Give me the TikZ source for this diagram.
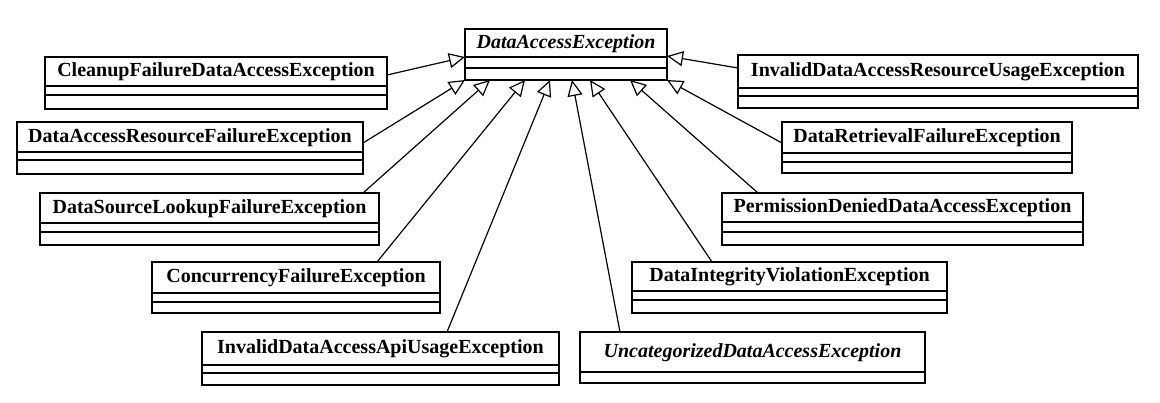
\documentclass[tikz,border=0pt]{standalone}
\usepackage{fontspec}
\setmainfont{Liberation Serif}
\usetikzlibrary{arrows.meta}
\tikzset{
  classbox/.style={draw, line width=1.8pt, inner sep=0pt, outer sep=0pt, anchor=north west},
  classname/.style={font=\bfseries\fontsize{20}{22}\selectfont, inner sep=0pt},
  abstractname/.style={font=\bfseries\itshape\fontsize{20}{22}\selectfont, inner sep=0pt},
  compart/.style={line width=1.5pt},
  inherits/.style={-{Triangle[open,length=16pt,width=15pt,line width=1.2pt]}, line width=1.2pt}
}
\newcommand\umlclass[9]{%
  \node[classbox, minimum width={(#4-#2)*1pt}, minimum height={(#5-#3)*1pt}] (#1) at (#2,#3) {};
  \node[#8] (#1-name) at ({(#2+#4)/2},{(#3+#6)/2+0.5}) {#9};
  \draw[compart] (#2,#6) -- (#4,#6);
  \ifx\relax#7\relax\else\draw[compart] (#2,#7) -- (#4,#7);\fi
}
\begin{document}
\begin{tikzpicture}[x=1pt,y=-1pt]
\fill[white] (0,0) rectangle (1160,402);
\useasboundingbox (0,0) rectangle (1160,402);
% classes
\umlclass{dae}{465}{29}{667}{80}{57}{68}{abstractname}{DataAccessException}
\umlclass{cleanup}{45}{57}{387}{109}{86}{95}{classname}{CleanupFailureDataAccessException}
\umlclass{darf}{17}{122}{363}{174}{152}{160}{classname}{DataAccessResourceFailureException}
\umlclass{dslf}{40}{193}{379}{245}{223}{232}{classname}{DataSourceLookupFailureException}
\umlclass{conc}{152}{262}{440}{313}{293}{302}{classname}{ConcurrencyFailureException}
\umlclass{api}{202}{332}{559}{385}{365}{373}{classname}{InvalidDataAccessApiUsageException}
\umlclass{uncat}{580}{332}{925}{383}{372}{}{abstractname}{UncategorizedDataAccessException}
\umlclass{dive}{632}{262}{947}{313}{291}{300}{classname}{DataIntegrityViolationException}
\umlclass{perm}{722}{193}{1083}{245}{222}{232}{classname}{PermissionDeniedDataAccessException}
\umlclass{drf}{782}{122}{1072}{173}{153}{162}{classname}{DataRetrievalFailureException}
\umlclass{idaru}{738}{55}{1138}{108}{88}{96}{classname}{InvalidDataAccessResourceUsageException}
% generalizations
\draw[inherits] ([yshift=-18pt]cleanup.north east) -- ([yshift=-28pt]dae.north west);
\draw[inherits] ([yshift=-21pt]darf.north east) -- (dae.south west);
\draw[inherits] ([xshift=-16pt]dslf.north east) -- ([xshift=25pt]dae.south west);
\draw[inherits] ([xshift=225pt]conc.north west) -- ([xshift=60pt]dae.south west);
\draw[inherits] ([xshift=245pt]api.north west) -- ([xshift=85pt]dae.south west);
\draw[inherits] ([xshift=40pt]uncat.north west) -- ([xshift=107pt]dae.south west);
\draw[inherits] ([xshift=80pt]dive.north west) -- ([xshift=125pt]dae.south west);
\draw[inherits] ([xshift=36pt]perm.north west) -- ([xshift=-37pt]dae.south east);
\draw[inherits] ([yshift=-21pt]drf.north west) -- (dae.south east);
\draw[inherits] ([yshift=-13pt]idaru.north west) -- ([yshift=-27pt]dae.north east);
\end{tikzpicture}
\end{document}
